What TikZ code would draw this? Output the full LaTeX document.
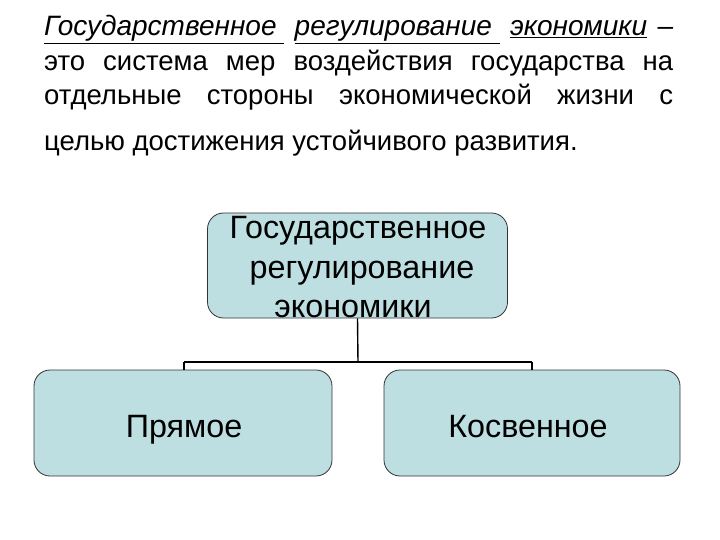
\documentclass[tikz,border=0pt]{standalone}
\usepackage{fontspec}
\setmainfont{Liberation Sans}
\definecolor{boxfill}{RGB}{190,223,226}
\newcommand{\ulword}[1]{\underline{#1}}
\begin{document}
\begin{tikzpicture}[x=1pt,y=-1pt,
  box/.style={draw=black!80, line width=0.8pt, fill=boxfill, rounded corners=16pt},
  para/.style={anchor=base west, inner sep=0pt, font=\fontsize{27.5}{32}\selectfont},
  btext/.style={inner sep=0pt, font=\fontsize{32.3}{38}\selectfont},
  conn/.style={line width=1.4pt, draw=black}]
\useasboundingbox (0,0) rectangle (720,540);
% paragraph
\node[para, font=\fontsize{28}{32}\selectfont] (l1) at (44,36) {\hbox to 629pt{\itshape\ulword{Государственное\ }\hfill\ulword{регулирование\ }\hfill\ulword{экономики}\hfill –}};
\node[para] (l2) at (44,71) {\hbox to 629pt{это\hfill система\hfill мер\hfill воздействия\hfill государства\hfill на}};
\node[para] (l3) at (44,105) {\hbox to 629pt{отдельные\hfill стороны\hfill экономической\hfill жизни\hfill с}};
\node[para] (l4) at (44,151) {целью достижения устойчивого развития.};
% boxes
\node[box, minimum width=300pt, minimum height=105pt, inner sep=0pt] (top) at (357.5,265.5) {};
\node[btext, anchor=base] (t1) at (358,239) {Государственное};
\node[btext, anchor=base] (t2) at (362,278) {регулирование};
\node[btext, anchor=base] (t3) at (353,317) {экономики};
\node[box, minimum width=298pt, minimum height=106pt, inner sep=0pt] (left) at (183,423) {};
\node[box, minimum width=296pt, minimum height=106pt, inner sep=0pt] (right) at (532,423) {};
\node[btext, anchor=base] (pl) at (184,437) {Прямое};
\node[btext, anchor=base] (pr) at (528,437) {Косвенное};
% connectors
\coordinate (j) at (358,362);
\coordinate (jl) at (184,362);
\coordinate (jr) at (532,362);
\draw[conn] (top.south) -- (j);
\draw[conn] (jl) -- (jr);
\draw[conn] (jl) -- (jl |- left.north);
\draw[conn] (jr) -- (jr |- right.north);
\end{tikzpicture}
\end{document}
